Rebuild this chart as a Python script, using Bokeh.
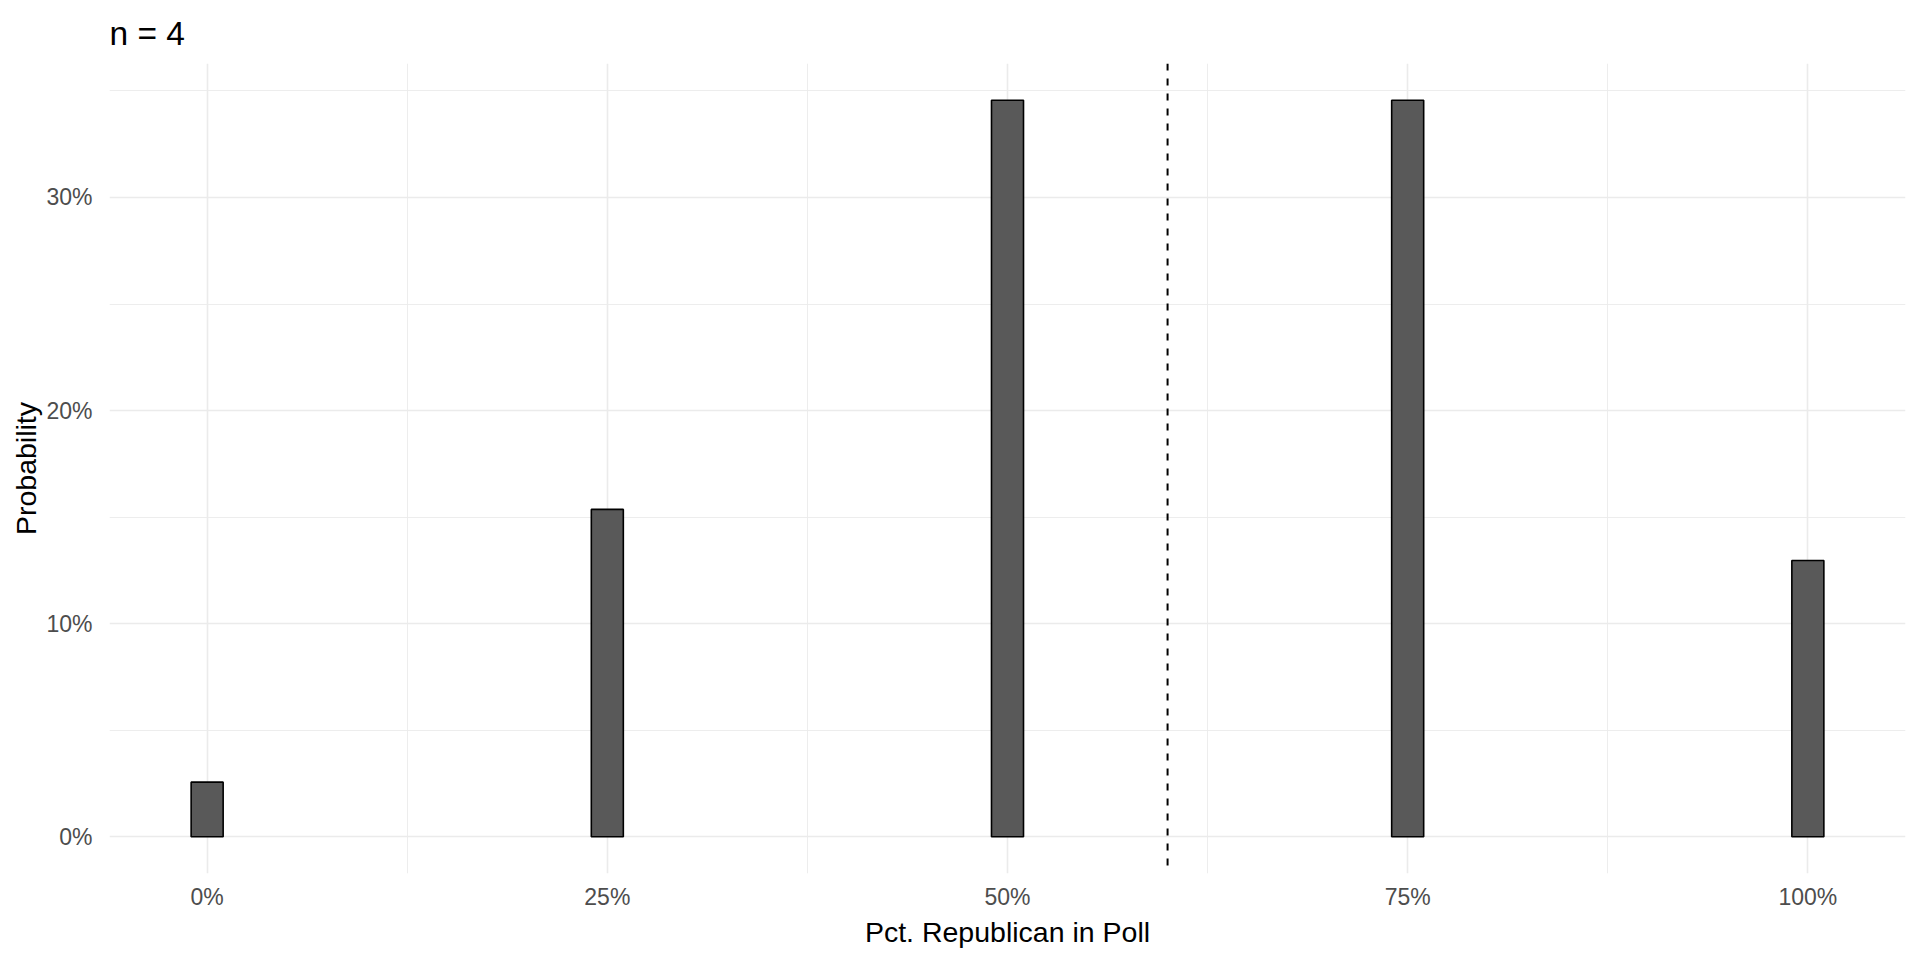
from bokeh.plotting import figure
from bokeh.models import FixedTicker, NumeralTickFormatter, Span, Range1d
from bokeh.embed import file_html
from bokeh.resources import INLINE

# Data
pct_republican = [0.0, 0.25, 0.50, 0.75, 1.0]
probability = [0.0256, 0.1536, 0.3456, 0.3456, 0.1296]
true_share = 0.6
title_text = "n = 4"
x_major = [0, 0.25, 0.5, 0.75, 1.0]
x_minor = [0.125, 0.375, 0.625, 0.875]
y_major = [0, 0.1, 0.2, 0.3]
y_minor = [0.05, 0.15, 0.25, 0.35]

FONT = "Liberation Sans"

p = figure(width=1912, height=952, output_backend="svg", toolbar_location=None,
           x_range=Range1d(-0.061, 1.061), y_range=Range1d(-0.01728, 0.36288),
           min_border_left=109, min_border_right=7, min_border_top=62, min_border_bottom=79)

p.background_fill_color = "white"
p.border_fill_color = "white"
p.outline_line_color = None

p.title.text = title_text
p.title.text_font = FONT
p.title.text_font_size = "33.5px"
p.title.text_font_style = "normal"
p.title.text_color = "black"
p.title.align = "left"
p.title.offset = 0
p.title.standoff = 24

p.vbar(x=pct_republican, top=probability, bottom=0, width=0.02,
       fill_color="#595959", line_color="black", line_width=1.6)

p.add_layout(Span(location=true_share, dimension="height", line_color="black",
                  line_width=2, line_dash="7 8"))

for ax in (p.xaxis[0], p.yaxis[0]):
    ax.axis_line_color = None
    ax.major_tick_line_color = None
    ax.minor_tick_line_color = None
    ax.major_tick_out = 0
    ax.major_tick_in = 0
    ax.minor_tick_out = 0
    ax.minor_tick_in = 0
    ax.major_label_text_font = FONT
    ax.major_label_text_font_size = "23px"
    ax.major_label_text_color = "#4D4D4D"
    ax.axis_label_text_font = FONT
    ax.axis_label_text_font_size = "28.5px"
    ax.axis_label_text_font_style = "normal"
    ax.axis_label_text_color = "black"
    ax.formatter = NumeralTickFormatter(format="0%")

p.xaxis.ticker = FixedTicker(ticks=x_major, minor_ticks=x_minor)
p.yaxis.ticker = FixedTicker(ticks=y_major, minor_ticks=y_minor)
p.xaxis.axis_label = "Pct. Republican in Poll"
p.yaxis.axis_label = "Probability"
p.xaxis.major_label_standoff = 10
p.yaxis.major_label_standoff = 17
p.xaxis.axis_label_standoff = 3
p.yaxis.axis_label_standoff = 1

for g in (p.xgrid[0], p.ygrid[0]):
    g.grid_line_color = "#EBEBEB"
    g.grid_line_width = 1.6
    g.minor_grid_line_color = "#EBEBEB"
    g.minor_grid_line_width = 0.9
p.xgrid.ticker = FixedTicker(ticks=x_major, minor_ticks=x_minor)
p.ygrid.ticker = FixedTicker(ticks=y_major, minor_ticks=y_minor)

open("out.html", "w").write(file_html(p, INLINE))
